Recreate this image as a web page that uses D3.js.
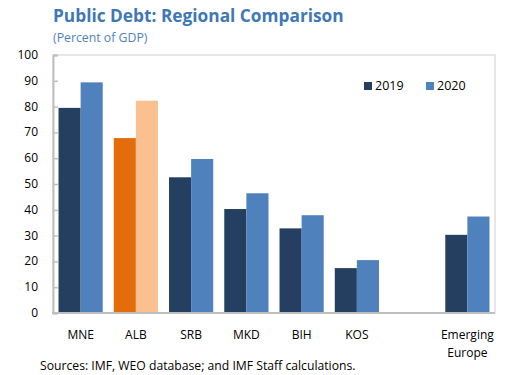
<!DOCTYPE html>
<html>
<head>
<meta charset="utf-8">
<script src="https://cdn.jsdelivr.net/npm/d3@7"></script>
<style>
  body { margin: 0; background: #fff; }
  text { font-family: "Open Sans", "Noto Sans", sans-serif; }
</style>
</head>
<body>
<div id="chart"></div>
<script>
// data
var categories = ["MNE", "ALB", "SRB", "MKD", "BIH", "KOS", "", "Emerging Europe"];
var debt2019 = [79.5, 67.8, 52.6, 40.3, 32.8, 17.4, null, 30.3];
var debt2020 = [89.4, 82.3, 59.7, 46.4, 37.9, 20.5, null, 37.4];
var seriesNames = ["2019", "2020"];
var yTicks = [0, 10, 20, 30, 40, 50, 60, 70, 80, 90, 100];

var width = 516, height = 375;
var margin = { top: 55, right: 21, bottom: 62, left: 53 };

var svg = d3.select("#chart").append("svg")
    .attr("width", width)
    .attr("height", height);

var x = d3.scaleBand()
    .domain(categories.map(function (d, i) { return i; }))
    .range([margin.left, width - margin.right])
    .paddingInner(0.2)
    .paddingOuter(0.1);

var xSub = d3.scaleBand()
    .domain(seriesNames)
    .range([0, x.bandwidth()]);

var y = d3.scaleLinear()
    .domain([0, 100])
    .range([height - margin.bottom, margin.top]);

// colours: ALB is highlighted in orange
function barColor(i, s) {
    if (categories[i] == "ALB") return s == "2019" ? "#e46c0a" : "#fac090";
    return s == "2019" ? "#243f60" : "#4f81bd";
}

// frame
svg.append("rect")
    .attr("x", margin.left)
    .attr("y", margin.top)
    .attr("width", width - margin.left - margin.right)
    .attr("height", height - margin.top - margin.bottom)
    .attr("fill", "none")
    .attr("stroke", "#d0d0d0")
    .attr("stroke-width", 1);

// bars
var groups = svg.selectAll("g.grp")
    .data(categories)
    .enter().append("g")
    .attr("class", "grp")
    .attr("transform", function (d, i) { return "translate(" + x(i) + ",0)"; });

groups.each(function (d, i) {
    var vals = [debt2019[i], debt2020[i]];
    d3.select(this).selectAll("rect")
        .data(seriesNames.filter(function (s, k) { return vals[k] != null; }))
        .enter().append("rect")
        .attr("x", function (s) { return xSub(s); })
        .attr("y", function (s) { return y(vals[seriesNames.indexOf(s)]); })
        .attr("width", xSub.bandwidth())
        .attr("height", function (s) { return y(0) - y(vals[seriesNames.indexOf(s)]); })
        .attr("fill", function (s) { return barColor(i, s); });
});

// y axis
var yAxis = d3.axisRight(y)
    .tickValues(yTicks)
    .tickSize(5)
    .tickFormat("");
var ya = svg.append("g")
    .attr("transform", "translate(" + margin.left + ",0)")
    .call(yAxis);
ya.select(".domain").attr("stroke", "#bfbfbf").attr("stroke-width", 2);
ya.selectAll(".tick line").attr("stroke", "#bfbfbf").attr("stroke-width", 1.5);

svg.selectAll("text.ylab")
    .data(yTicks)
    .enter().append("text")
    .attr("class", "ylab")
    .attr("x", 38)
    .attr("y", function (d) { return y(d) + 4; })
    .attr("text-anchor", "end")
    .attr("font-size", 12)
    .attr("fill", "#000")
    .text(function (d) { return d; });

// x baseline
svg.append("line")
    .attr("x1", margin.left - 1)
    .attr("x2", width - margin.right)
    .attr("y1", y(0))
    .attr("y2", y(0))
    .attr("stroke", "#bfbfbf")
    .attr("stroke-width", 2);

// category labels
svg.selectAll("text.xlab")
    .data(categories)
    .enter().append("text")
    .attr("class", "xlab")
    .attr("text-anchor", "middle")
    .attr("font-size", 12)
    .attr("fill", "#000")
    .each(function (d, i) {
        var words = d.split(" ");
        var t = d3.select(this);
        words.forEach(function (w, k) {
            t.append("tspan")
                .attr("x", x(i) + x.bandwidth() / 2)
                .attr("y", 339 + k * 18)
                .text(w);
        });
    });

// legend
var legend = svg.selectAll("g.leg")
    .data(seriesNames)
    .enter().append("g")
    .attr("class", "leg")
    .attr("transform", function (d, i) { return "translate(" + (364 + i * 62) + ",82)"; });
legend.append("rect")
    .attr("width", 8)
    .attr("height", 8)
    .attr("fill", function (d) { return barColor(0, d); });
legend.append("text")
    .attr("x", 11)
    .attr("y", 8)
    .attr("font-size", 12.5)
    .attr("fill", "#000")
    .text(function (d) { return d; });

// titles
svg.append("text")
    .attr("x", 53)
    .attr("y", 22)
    .attr("font-size", 17.3)
    .attr("font-weight", "bold")
    .attr("fill", "#3f78b5")
    .text("Public Debt: Regional Comparison");
svg.append("text")
    .attr("x", 53)
    .attr("y", 42)
    .attr("font-size", 12.3)
    .attr("fill", "#4f81bd")
    .text("(Percent of GDP)");

// source
svg.append("text")
    .attr("x", 40)
    .attr("y", 370)
    .attr("font-size", 12.2)
    .attr("fill", "#000")
    .text("Sources: IMF, WEO database; and IMF Staff calculations.");
</script>
</body>
</html>
